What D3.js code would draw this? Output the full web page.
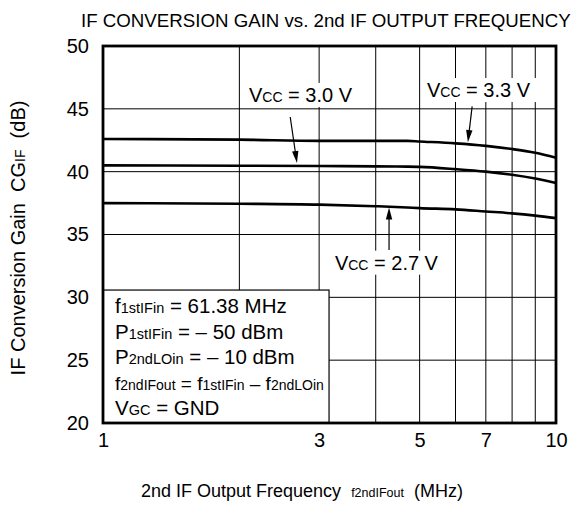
<!DOCTYPE html>
<html>
<head>
<meta charset="utf-8" />
<style>
    body { margin: 0; background: #fff; }
    svg { display: block; font-family: "Liberation Sans", Arial, sans-serif; }
    text { white-space: pre; }
    .grid line { stroke: #000; stroke-width: 1; }
    .curve { fill: none; stroke: #000; stroke-width: 2.6; }
    .frame { fill: none; stroke: #000; stroke-width: 2.8; }
    .tick text { font-size: 20px; fill: #000; }
</style>
</head>
<body>
<div id="chart"></div>
<script src="https://d3js.org/d3.v7.min.js"></script>
<script>
    // values
    var freq = [1, 2, 3, 4, 4.7, 5, 6, 7, 8, 9, 10];
    var vcc33 = [42.6, 42.55, 42.45, 42.45, 42.45, 42.4, 42.25, 42.05, 41.8, 41.5, 41.1];
    var vcc30 = [40.5, 40.47, 40.45, 40.42, 40.4, 40.38, 40.2, 40.0, 39.75, 39.45, 39.1];
    var vcc27 = [37.5, 37.45, 37.38, 37.25, 37.15, 37.1, 37.0, 36.83, 36.68, 36.5, 36.3];
    var xTicks = [1, 3, 5, 7, 10];
    var xGrid = [2, 3, 4, 5, 6, 7, 8, 9];
    var yTicks = [20, 25, 30, 35, 40, 45, 50];

    var width = 582, height = 508;
    var margin = {top: 46, right: 26, bottom: 85, left: 103};

    var svg = d3.select('#chart').append('svg')
        .attr('width', width)
        .attr('height', height);

    var x = d3.scaleLog().domain([1, 10]).range([margin.left, width - margin.right]);
    var y = d3.scaleLinear().domain([20, 50]).range([height - margin.bottom, margin.top]);

    // grid
    var grid = svg.append('g').attr('class', 'grid');
    grid.selectAll('.v').data(xGrid).enter().append('line')
        .attr('x1', function(d) { return x(d); })
        .attr('x2', function(d) { return x(d); })
        .attr('y1', y(20)).attr('y2', y(50));
    grid.selectAll('.h').data(yTicks.slice(1, -1)).enter().append('line')
        .attr('x1', x(1)).attr('x2', x(10))
        .attr('y1', function(d) { return y(d); })
        .attr('y2', function(d) { return y(d); });

    // curves
    var line = d3.line()
        .x(function(d) { return x(d[0]); })
        .y(function(d) { return y(d[1]); })
        .curve(d3.curveMonotoneX);

    [vcc33, vcc30, vcc27].forEach(function(s) {
        svg.append('path')
            .attr('class', 'curve')
            .attr('d', line(freq.map(function(f, i) { return [f, s[i]]; })));
    });

    // axes (labels only, frame drawn separately)
    svg.append('g')
        .attr('transform', 'translate(0,' + y(20) + ')')
        .call(d3.axisBottom(x).tickValues(xTicks).tickFormat(d3.format('d')).tickSize(0).tickPadding(10))
        .call(function(g) { g.select('.domain').remove(); });

    svg.append('g')
        .attr('transform', 'translate(' + x(1) + ',0)')
        .call(d3.axisLeft(y).tickValues(yTicks).tickSize(0).tickPadding(14))
        .call(function(g) { g.select('.domain').remove(); });

    // labels with subscripts
    function label(g, parts, size, small) {
        var t = g.append('text').attr('font-size', size);
        parts.forEach(function(p) {
            t.append('tspan')
                .attr('font-size', p[1] ? small : size)
                .text(p[0]);
        });
        return t;
    }

    function vccLabel(fx, dy, volt, pad) {
        var g = svg.append('g').attr('transform', 'translate(' + x(fx) + ',' + y(dy) + ')');
        var bg = g.append('rect').attr('fill', '#fff');
        var t = label(g, [['V', 0], ['CC', 1], [' = ' + volt + ' V', 0]], 20, 14);
        var b = t.node().getBBox();
        bg.attr('x', b.x - pad).attr('y', b.y - 1)
          .attr('width', b.width + 2 * pad).attr('height', b.height + 2);
    }

    function arrow(f1, d1, f2, d2) {
        var x1 = x(f1), y1 = y(d1), x2 = x(f2), y2 = y(d2);
        var a = Math.atan2(y2 - y1, x2 - x1), L = 12, w = 3.2;
        svg.append('line')
            .attr('x1', x1).attr('y1', y1)
            .attr('x2', x2 - Math.cos(a) * L * 0.8).attr('y2', y2 - Math.sin(a) * L * 0.8)
            .attr('stroke', '#000').attr('stroke-width', 1.2);
        var bx = x2 - Math.cos(a) * L, by = y2 - Math.sin(a) * L;
        svg.append('path')
            .attr('d', 'M' + x2 + ',' + y2 +
                'L' + (bx - Math.sin(a) * w) + ',' + (by + Math.cos(a) * w) +
                'L' + (bx + Math.sin(a) * w) + ',' + (by - Math.cos(a) * w) + 'Z')
            .attr('fill', '#000');
    }

    vccLabel(2.1, 45.55, '3.0', 5);
    vccLabel(5.19, 45.94, '3.3', 6);
    vccLabel(3.25, 32.2, '2.7', 5);

    arrow(2.59, 44.35, 2.68, 40.69);
    arrow(6.53, 45.2, 6.39, 42.35);
    arrow(4.28, 33.77, 4.28, 37.15);

    // condition box
    var bx0 = x(1), bx1 = x(3.155), by0 = y(30.58), by1 = y(20);
    svg.append('rect')
        .attr('x', bx0).attr('y', by0)
        .attr('width', bx1 - bx0).attr('height', by1 - by0)
        .attr('fill', '#fff').attr('stroke', '#000').attr('stroke-width', 1.2);

    var cond = [
        {parts: [['f', 0], ['1stIFin', 1], [' = 61.38 MHz', 0]], size: 20.5, small: 14.5},
        {parts: [['P', 0], ['1stIFin', 1], [' = \u2013 50 dBm', 0]], size: 20.5, small: 14.5},
        {parts: [['P', 0], ['2ndLOin', 1], [' = \u2013 10 dBm', 0]], size: 20.5, small: 14.5},
        {parts: [['f', 0], ['2ndIFout', 1], [' = f', 0], ['1stIFin', 1], [' \u2013 f', 0], ['2ndLOin', 1]], size: 19, small: 14},
        {parts: [['V', 0], ['GC', 1], [' = GND', 0]], size: 20.5, small: 14.5}
    ];
    var cg = svg.append('g').attr('transform', 'translate(' + (bx0 + 12) + ',' + (by0 + 23) + ')');
    cond.forEach(function(c, i) {
        label(cg, c.parts, c.size, c.small).attr('y', i * 25.6);
    });

    // frame
    svg.append('rect').attr('class', 'frame')
        .attr('x', x(1)).attr('y', y(50))
        .attr('width', x(10) - x(1)).attr('height', y(20) - y(50));

    // titles
    svg.append('text')
        .attr('x', 81).attr('y', 27)
        .attr('font-size', 18.7)
        .text('IF CONVERSION GAIN vs. 2nd IF OUTPUT FREQUENCY');

    var xl = svg.append('text').attr('x', 141).attr('y', 497).attr('font-size', 18);
    xl.append('tspan').text('2nd IF Output Frequency  ');
    xl.append('tspan').attr('font-size', 12.5).text('f2ndIFout');
    xl.append('tspan').text('  (MHz)');

    var yl = svg.append('text')
        .attr('transform', 'translate(25,' + 238 + ') rotate(-90)')
        .attr('text-anchor', 'middle')
        .attr('font-size', 20);
    yl.append('tspan').text('IF Conversion Gain  CG');
    yl.append('tspan').attr('font-size', 14).text('IF');
    yl.append('tspan').text('  (dB)');
</script>
</body>
</html>
